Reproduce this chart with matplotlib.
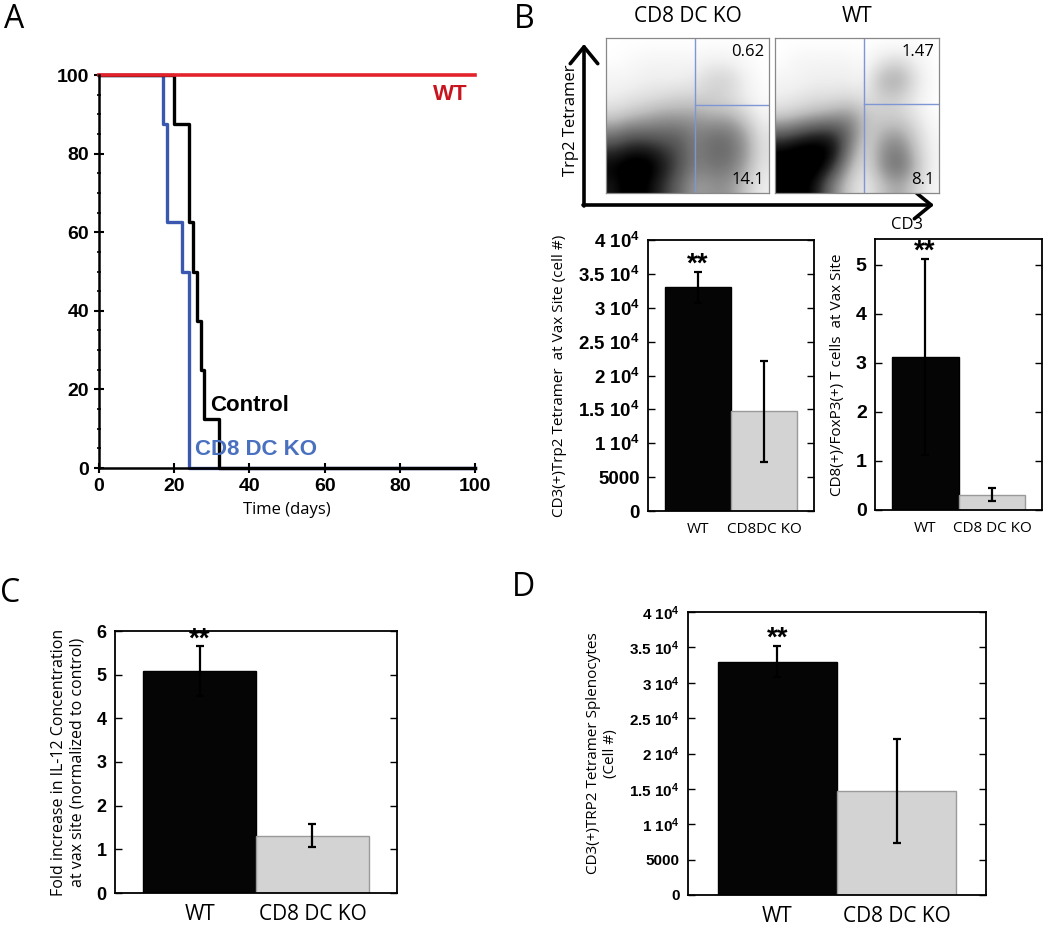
import numpy as np
import matplotlib
matplotlib.use("Agg")
import matplotlib.pyplot as plt
from matplotlib.colors import PowerNorm

# ---- data ----
# A: Kaplan-Meier survival (% alive vs days)
wt_days = [0, 100]
wt_surv = [100, 100]
ctrl_days = [0, 20, 24, 25, 26, 27, 28, 32, 100]
ctrl_surv = [100, 87.5, 62.5, 50, 37.5, 25, 12.5, 0, 0]
ko_days = [0, 17, 18, 22, 24, 100]
ko_surv = [100, 87.5, 62.5, 50, 0, 0]

# B top: flow plots, coarse density (rows top->bottom)
flow_ko = [
    [0, 0, 0, 0, 0, 0, 0, 0, 0, 0],
    [0, 0.1, 0.3, 0.3, 0.3, 0.3, 0.5, 0.5, 0.1, 0],
    [0.3, 0.3, 0.5, 0.5, 0.5, 0.7, 1.5, 1.5, 0.5, 0],
    [0.5, 0.8, 1, 1.2, 1.5, 1.5, 1.5, 1.2, 0.5, 0.1],
    [1.5, 2, 2.5, 3, 3, 3, 2.5, 2.5, 1.5, 0.3],
    [4, 5, 5, 5, 5, 4, 4.5, 4.5, 3, 0.8],
    [7, 8, 8, 7, 6, 4, 5, 5, 3.5, 1],
    [9, 10, 10, 8, 6, 4, 4.5, 4.5, 3, 0.8],
    [8, 10, 9, 7, 5, 3, 3.5, 3.5, 2, 0.5],
]
flow_wt = [
    [0, 0, 0, 0, 0, 0, 0, 0, 0, 0],
    [0, 0.3, 0.3, 0.3, 0.3, 0, 1, 1.5, 0.5, 0],
    [0.3, 0.3, 0.5, 0.5, 0.5, 0.3, 2.5, 3, 1, 0],
    [0.5, 0.8, 1, 1, 1.2, 0.8, 1.5, 1.5, 0.5, 0],
    [1.5, 2, 2.5, 3, 3.5, 2, 1.5, 1.5, 0.8, 0],
    [5, 6, 7, 7, 5, 1.5, 2.5, 3, 1.5, 0.2],
    [9, 10, 10, 9, 4, 1, 3.5, 4.5, 2, 0.3],
    [10, 10, 10, 7, 2.5, 0.8, 3.5, 5, 2.5, 0.3],
    [10, 10, 8, 4, 1.5, 0.5, 2, 3, 1.5, 0.2],
]
flow_titles = ["CD8 DC KO", "WT"]
flow_upper = ["0.62", "1.47"]
flow_lower = ["14.1", "8.1"]
gate_x = [0.546, 0.543]
gate_y = [0.568, 0.574]

# B bottom left: CD3+ Trp2 tetramer at vax site
b1_labels = ["WT", "CD8DC KO"]
b1_vals = [33000, 14700]
b1_err = [2300, 7400]
# B bottom right: CD8/FoxP3 ratio
b2_labels = ["WT", "CD8 DC KO"]
b2_vals = [3.12, 0.31]
b2_err = [2.0, 0.135]
# C: IL-12 fold increase
c_labels = ["WT", "CD8 DC KO"]
c_vals = [5.08, 1.31]
c_err = [0.57, 0.26]
# D: splenocytes
d_labels = ["WT", "CD8 DC KO"]
d_vals = [33000, 14700]
d_err = [2200, 7300]

e4_ticks = [0, 5000, 10000, 15000, 20000, 25000, 30000, 35000, 40000]
e4_ticklabels = ["0", "5000", r"1 10$^{\mathbf{4}}$", r"1.5 10$^{\mathbf{4}}$",
                 r"2 10$^{\mathbf{4}}$", r"2.5 10$^{\mathbf{4}}$", r"3 10$^{\mathbf{4}}$",
                 r"3.5 10$^{\mathbf{4}}$", r"4 10$^{\mathbf{4}}$"]

# ---- style ----
plt.rcParams["font.family"] = ["Open Sans", "DejaVu Sans"]
plt.rcParams["mathtext.fontset"] = "custom"
plt.rcParams["mathtext.bf"] = "Liberation Sans:bold"
plt.rcParams["mathtext.rm"] = "Liberation Sans:bold"
plt.rcParams["mathtext.default"] = "bf"

TICKFONT = "Liberation Sans"
RED = "#e3222b"
BLUE = "#3a58b0"
GRAY = "#d3d3d3"

W, H = 1050, 925
fig = plt.figure(figsize=(W / 100, H / 100), dpi=100)


def add_ax(x0, y0, x1, y1, **kw):
    return fig.add_axes([x0 / W, 1 - y1 / H, (x1 - x0) / W, (y1 - y0) / H], **kw)


def ftext(x, y, s, **kw):
    fig.text(x / W, 1 - y / H, s, **kw)


def style_ticks(ax, size, family=TICKFONT):
    for lab in ax.get_yticklabels():
        lab.set_fontfamily(family)
        lab.set_fontweight("bold")
        lab.set_fontsize(size)


def bar_panel(ax, labels, vals, errs, ylim, yticks, yticklabels, tsize, xsize, ylabel, ysize):
    x = np.arange(len(vals))
    ax.bar(x, vals, width=1.0, color=["#050505", GRAY], edgecolor=["black", "#9a9a9a"],
           linewidth=1.0, zorder=2)
    ax.errorbar(x, vals, yerr=errs, fmt="none", ecolor="black", elinewidth=1.6,
                capsize=3, capthick=1.6, zorder=3)
    ax.set_xlim(-0.75, 1.75)
    ax.set_ylim(*ylim)
    ax.set_yticks(yticks)
    ax.set_yticklabels(yticklabels)
    ax.set_xticks(x)
    ax.set_xticklabels(labels, fontsize=xsize)
    ax.tick_params(axis="x", length=0, pad=8)
    ax.tick_params(axis="y", direction="in", right=True, length=5, width=1, pad=6)
    for sp in ax.spines.values():
        sp.set_linewidth(1.3)
    style_ticks(ax, tsize)
    ax.set_ylabel(ylabel, fontsize=ysize, labelpad=8)
    ax.annotate("**", xy=(0, vals[0] + errs[0]), xytext=(0, 0), textcoords="offset points",
                ha="center", va="baseline", fontsize=20, fontweight="bold",
                fontfamily=TICKFONT, annotation_clip=False, zorder=4)


# ---- panel A ----
axA = add_ax(99, 75, 475, 468)
axA.step(ko_days, ko_surv, where="post", color=BLUE, lw=2.4, clip_on=False)
axA.step(ctrl_days, ctrl_surv, where="post", color="black", lw=2.4, clip_on=False)
axA.plot(wt_days, wt_surv, color=RED, lw=2.6, clip_on=False)
axA.set_xlim(0, 100)
axA.set_ylim(0, 100)
axA.set_xticks(range(0, 101, 20))
axA.set_yticks(range(0, 101, 20))
axA.set_yticks(range(0, 101, 5), minor=True)
axA.spines["top"].set_visible(False)
axA.spines["right"].set_visible(False)
axA.spines["left"].set_linewidth(1.8)
axA.spines["bottom"].set_linewidth(1.8)
axA.tick_params(which="major", direction="inout", length=7, width=1.5, labelsize=14)
axA.tick_params(which="minor", direction="inout", length=3, width=1.2)
for lab in axA.get_xticklabels() + axA.get_yticklabels():
    lab.set_fontfamily(TICKFONT)
    lab.set_fontweight("bold")
axA.set_xlabel("Time (days)", fontsize=12, labelpad=5)
axA.text(98, 95, "WT", color="#c8141e", fontsize=16, fontweight="bold",
         fontfamily=TICKFONT, ha="right", va="center")
axA.text(29.5, 16, "Control", color="black", fontsize=16, fontweight="bold",
         fontfamily=TICKFONT, ha="left", va="center")
axA.text(25.5, 4.6, "CD8 DC KO", color="#4a70c0", fontsize=16, fontweight="bold",
         fontfamily=TICKFONT, ha="left", va="center")

# ---- panel B top: flow plots ----
flow_boxes = [(606, 38, 769, 193), (775, 38, 939, 193)]
for i, dens in enumerate([flow_ko, flow_wt]):
    ax = add_ax(*flow_boxes[i])
    ax.imshow(np.array(dens), extent=[0, 1, 0, 1], aspect="auto", cmap="Greys",
              norm=PowerNorm(gamma=0.7, vmin=0, vmax=9), interpolation="bicubic")
    ax.set_xlim(0, 1)
    ax.set_ylim(0, 1)
    ax.plot([gate_x[i], gate_x[i]], [0, 1], color="#7f96d4", lw=1.0)
    ax.plot([gate_x[i], 1], [gate_y[i], gate_y[i]], color="#7f96d4", lw=1.0)
    ax.set_xticks([])
    ax.set_yticks([])
    for sp in ax.spines.values():
        sp.set_color("#888888")
        sp.set_linewidth(0.9)
    ax.text(0.97, 0.96, flow_upper[i], ha="right", va="top", fontsize=12)
    ax.text(0.97, 0.03, flow_lower[i], ha="right", va="bottom", fontsize=12)
    cx = (flow_boxes[i][0] + flow_boxes[i][2]) / 2
    ftext(cx, 17, flow_titles[i], ha="center", va="center", fontsize=15)

ov = fig.add_axes([0, 0, 1, 1], zorder=-5)
ov.set_xlim(0, W)
ov.set_ylim(H, 0)
ov.axis("off")
arrow = dict(arrowstyle="->,head_length=0.55,head_width=0.45", lw=2.6, color="black",
             mutation_scale=22, shrinkA=0, shrinkB=0)
ov.annotate("", xy=(584, 44), xytext=(584, 206), arrowprops=arrow)
ov.annotate("", xy=(934, 205), xytext=(583, 205), arrowprops=arrow)
ftext(571, 120, "Trp2 Tetramer", rotation=90, ha="center", va="center", fontsize=12)
ftext(907, 225, "CD3", ha="center", va="center", fontsize=12)

# ---- panel B bottom ----
axB1 = add_ax(648, 240, 814, 511)
bar_panel(axB1, b1_labels, b1_vals, b1_err, (0, 40000), e4_ticks, e4_ticklabels,
          13.5, 11, "CD3(+)Trp2 Tetramer  at Vax Site (cell #)", 11)
axB2 = add_ax(875, 239, 1042, 510)
bar_panel(axB2, b2_labels, b2_vals, b2_err, (0, 5.52), range(0, 6),
          [str(v) for v in range(0, 6)], 14, 11, "CD8(+)/FoxP3(+) T cells  at Vax Site", 11)

# ---- panel C ----
axC = add_ax(115, 631, 397, 893)
bar_panel(axC, c_labels, c_vals, c_err, (0, 6), range(0, 7),
          [str(v) for v in range(0, 7)], 13, 15,
          "Fold increase in IL-12 Concentration\nat vax site (normalized to control)", 11.5)

# ---- panel D ----
axD = add_ax(688, 612, 986, 895)
bar_panel(axD, d_labels, d_vals, d_err, (0, 40000), e4_ticks, e4_ticklabels,
          11, 15, "CD3(+)TRP2 Tetramer Splenocytes\n(Cell #)", 11)

# panel letters
for letter, (x, y) in {"A": (4, 19), "B": (514, 19), "C": (0, 593), "D": (512, 587)}.items():
    ftext(x, y, letter, ha="left", va="center", fontsize=23)

fig.savefig("out.png", dpi=100)
